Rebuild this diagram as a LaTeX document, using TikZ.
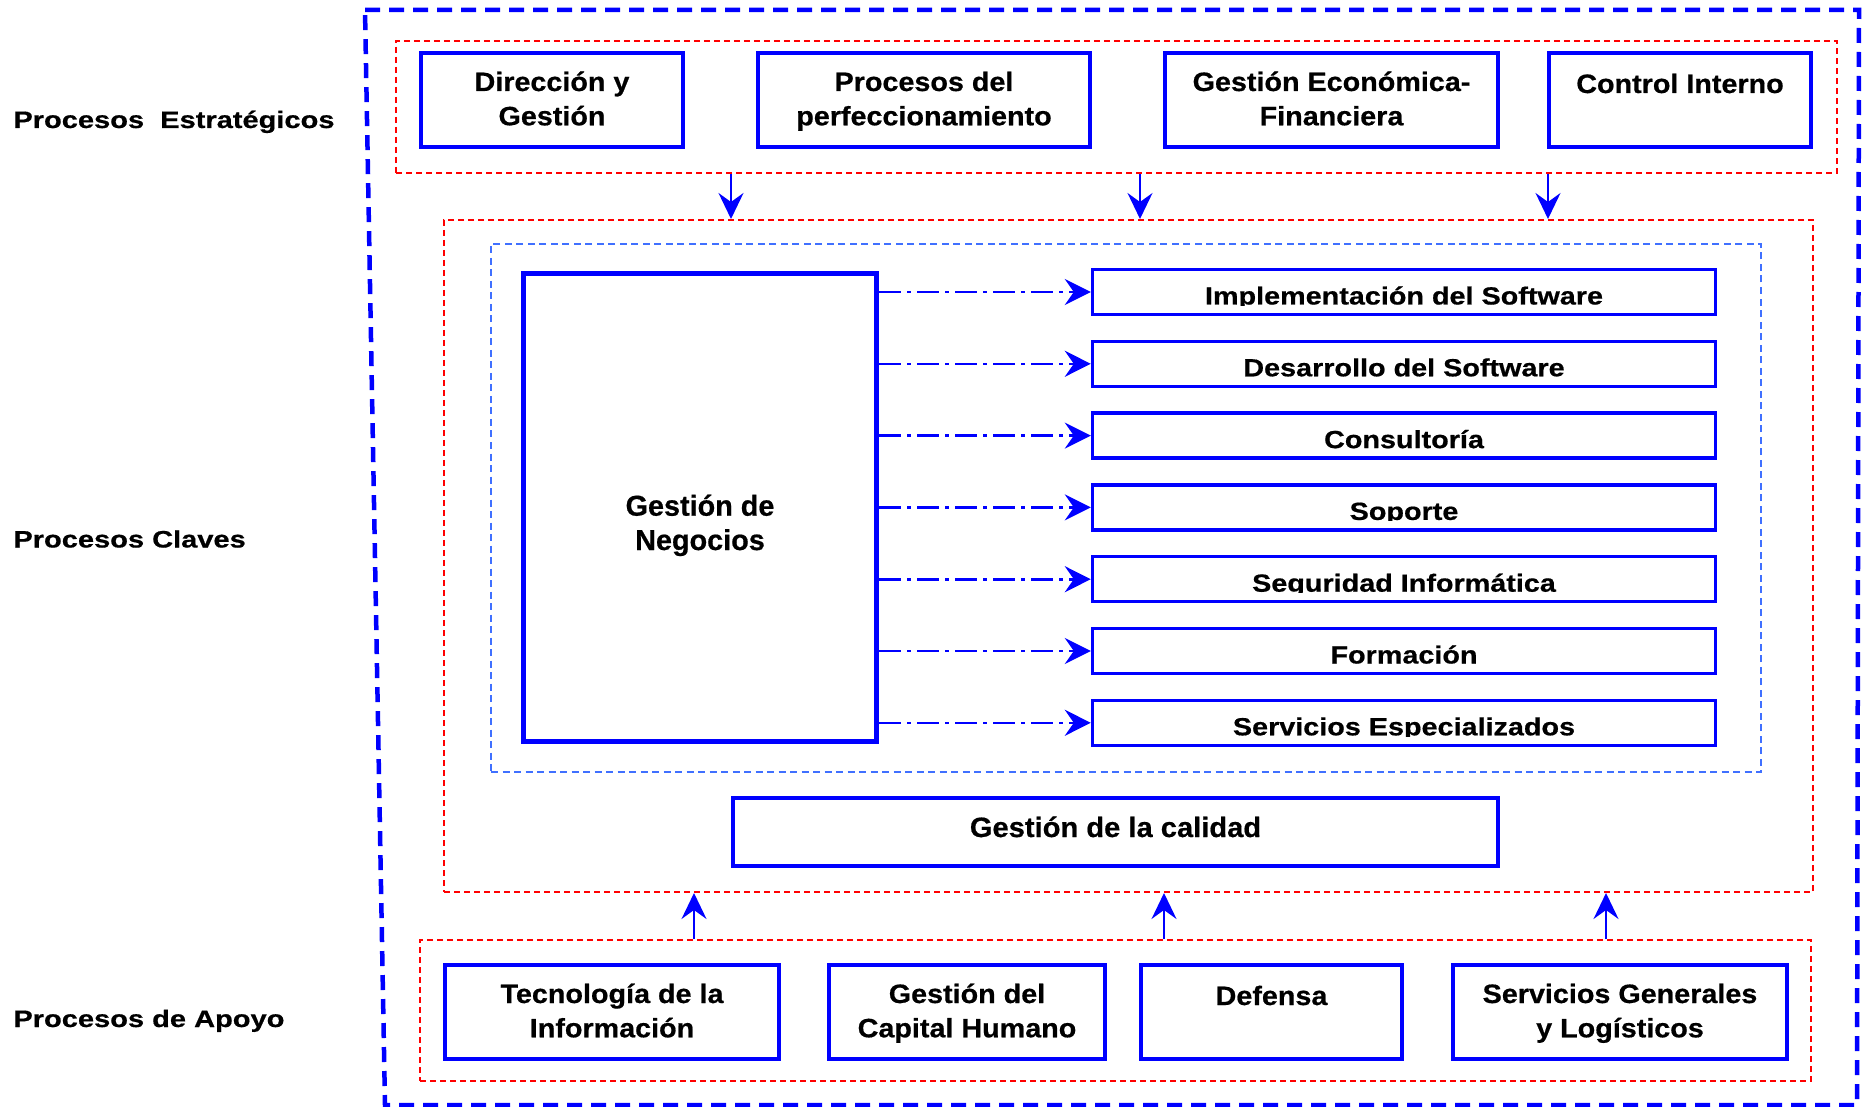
\documentclass[tikz,border=0pt]{standalone}
\usepackage{fontspec}
\setmainfont{Liberation Sans}[BoldFeatures={FakeBold=0.6}]
\newfontfamily\flab{Liberation Sans}[FakeStretch=1.22, BoldFeatures={FakeStretch=1.22,FakeBold=0.6}]
\newfontfamily\frow{Liberation Sans}[FakeStretch=1.16, BoldFeatures={FakeStretch=1.16,FakeBold=0.6}]
\newfontfamily\fbx{Liberation Sans}[FakeStretch=1.08, BoldFeatures={FakeStretch=1.08,FakeBold=0.6}]
\newfontfamily\fgc{Liberation Sans}[FakeStretch=1.04, BoldFeatures={FakeStretch=1.04,FakeBold=0.6}]
\usetikzlibrary{arrows.meta,fit}
\definecolor{pblue}{RGB}{0,0,255}
\definecolor{pred}{RGB}{255,0,0}
\definecolor{lblue}{RGB}{64,112,255}
\newcommand{\twoline}[2]{\begin{tabular}[t]{@{}c@{}}#1\\#2\end{tabular}}
\begin{document}
\begin{tikzpicture}[x=0.5pt,y=-0.5pt,
  outerbox/.style={draw=pblue, line width=2.25pt, dash pattern=on 7.5pt off 4.5pt},
  redbox/.style={draw=pred, line width=1pt, dash pattern=on 3pt off 2pt, inner sep=0pt},
  lbbox/.style={draw=lblue, line width=0.75pt, dash pattern=on 3.5pt off 2.25pt, inner sep=0pt},
  pbox/.style={draw=pblue, line width=2.25pt, inner sep=0pt},
  rowbox/.style={draw=pblue, line width=1.7pt, inner sep=0pt},
  gnbox/.style={draw=pblue, line width=2.5pt, inner sep=0pt},
  flow/.style={draw=pblue, line width=1pt, -{Stealth[length=13pt,width=12.5pt,inset=4.5pt]}},
  dflow/.style={draw=pblue, line width=1.3pt, dash pattern=on 11pt off 3pt on 2pt off 3pt, -{Stealth[length=13pt,width=13pt,inset=4.5pt]}},
  lab/.style={inner sep=0pt, anchor=base west, font=\flab\bfseries\fontsize{11.9}{13}\selectfont},
  btxt/.style={inner sep=0pt, anchor=base, font=\fbx\bfseries\fontsize{13.3}{17.15}\selectfont},
  rtxt/.style={inner sep=0pt, anchor=base, font=\frow\bfseries\fontsize{12.4}{14}\selectfont},
  gntxt/.style={inner sep=0pt, anchor=base, font=\bfseries\fontsize{14.4}{17.15}\selectfont},
  gctxt/.style={inner sep=0pt, anchor=base, font=\fgc\bfseries\fontsize{14}{16}\selectfont}
]
\useasboundingbox (0,0) rectangle (1869,1107);

% outer frame
\draw[outerbox] (365,10) -- (1859,10) -- (1857,1105) -- (385,1105) -- cycle;

% left labels
\node[lab] (l1) at (13,128) {Procesos\ \ Estratégicos};
\node[lab] (l2) at (13,547.5) {Procesos Claves};
\node[lab] (l3) at (13,1027) {Procesos de Apoyo};

% group frames
\node[redbox, fit={(396,41) (1837,173)}] (est) {};
\node[redbox, fit={(444,220) (1813,892)}] (key) {};
\node[redbox, fit={(420,940) (1811,1081)}] (apo) {};
\node[lbbox, fit={(491,244) (1761,772)}] (inner) {};

% strategic boxes
\node[pbox, fit={(421,53) (683,147)}] (dir) {};
\node[pbox, fit={(758,53) (1090,147)}] (pro) {};
\node[pbox, fit={(1165,53) (1498,147)}] (gef) {};
\node[pbox, fit={(1549,53) (1811,147)}] (ci) {};
\node[btxt] (tdir) at (552,91) {\twoline{Dirección y}{Gestión}};
\node[btxt] (tpro) at (924,91) {\twoline{Procesos del}{perfeccionamiento}};
\node[btxt] (tgef) at (1331.5,91) {\twoline{Gestión Económica-}{Financiera}};
\node[btxt] (tci) at (1680,93) {Control Interno};

% business management
\node[gnbox, fit={(523.5,273.5) (876.5,741.5)}] (gn) {};
\node[gntxt] (tgn) at (700,515.7) {\twoline{Gestión de}{Negocios}};

% key process rows
\foreach \i/\t in {1/Implementación del Software, 2/Desarrollo del Software, 3/Consultoría, 4/Soporte, 5/Seguridad Informática, 6/Formación, 7/Servicios Especializados} {
  \pgfmathsetmacro\rt{268+71.8*(\i-1)}
  \node[rowbox, fit={(1092.5,\rt+1.5) (1715.5,\rt+46.5)}] (r\i) {};
  \begin{scope}
    \clip (1094,\rt+3) rectangle (1714,\rt+37.5);
    \node[rtxt] (rt\i) at (1404,\rt+36.5) {\t};
  \end{scope}
  \draw[dflow] (gn.east |- r\i.west) -- (r\i.west);
}

% quality
\node[pbox, fit={(733,798) (1498,866)}] (gc) {};
\node[gctxt] (tgc) at (1115.5,837) {Gestión de la calidad};

% support boxes
\node[pbox, fit={(445,965) (779,1059)}] (ti) {};
\node[pbox, fit={(829,965) (1105,1059)}] (gch) {};
\node[pbox, fit={(1141,965) (1402,1059)}] (def) {};
\node[pbox, fit={(1453,965) (1787,1059)}] (sg) {};
\node[btxt] (tti) at (612,1003) {\twoline{Tecnología de la}{Información}};
\node[btxt] (tgch) at (967,1003) {\twoline{Gestión del}{Capital Humano}};
\node[btxt] (tdef) at (1271.5,1005) {Defensa};
\node[btxt] (tsg) at (1620,1003) {\twoline{Servicios Generales}{y Logísticos}};

% vertical arrows
\coordinate (ad1) at (731,0);
\coordinate (ad2) at (1140,0);
\coordinate (ad3) at (1548,0);
\coordinate (au1) at (694,0);
\coordinate (au2) at (1164,0);
\coordinate (au3) at (1606,0);
\foreach \k in {1,2,3} {
  \draw[flow] (est.south -| ad\k) -- (key.north -| ad\k);
  \draw[flow] (apo.north -| au\k) -- (key.south -| au\k);
}
\end{tikzpicture}
\end{document}
